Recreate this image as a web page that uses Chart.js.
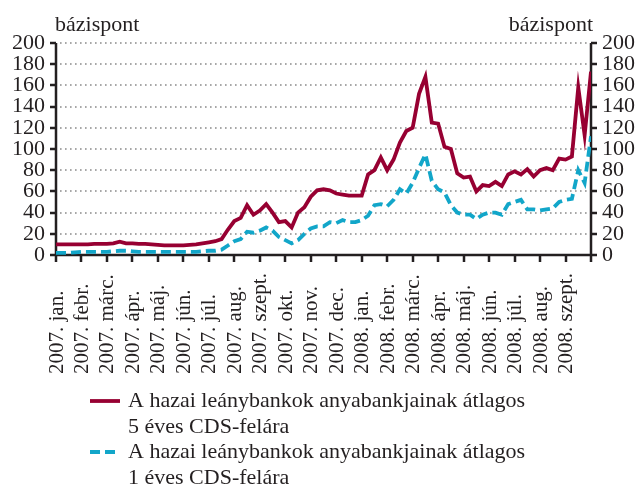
<!DOCTYPE html>
<html lang="hu">
<head>
<meta charset="utf-8">
<title>CDS-felárak</title>
<script src="https://cdn.jsdelivr.net/npm/chart.js@4.4.1/dist/chart.umd.min.js"></script>
<style>
  html, body { margin: 0; padding: 0; background: #fff; }
  canvas { display: block; }
</style>
</head>
<body>
<canvas id="cdsChart" width="636" height="486"></canvas>
<script>
const monthLabels = [
  '2007. jan.', '2007. febr.', '2007. márc.', '2007. ápr.', '2007. máj.', '2007. jún.',
  '2007. júl.', '2007. aug.', '2007. szept.', '2007. okt.', '2007. nov.', '2007. dec.',
  '2008. jan.', '2008. febr.', '2008. márc.', '2008. ápr.', '2008. máj.', '2008. jún.',
  '2008. júl.', '2008. aug.', '2008. szept.'
];

// heti adatok (4 érték / hónap), bázispont
const cds5y = [
  10, 10, 10, 10,   10, 10, 10.5, 10.5,   10.5, 11, 12.5, 11,   11, 10.5, 10.5, 10,
  9.5, 9, 9, 9,   9, 9.5, 10, 11,   12, 13, 15, 24,   32, 35, 47, 38,
  42, 48, 40, 31,   32, 26, 40, 45,   55, 61, 62, 61,   58, 57, 56, 56,
  56, 76, 80, 92,   80, 90, 106, 117,   120, 152, 168, 125,   124, 102, 100, 77,
  73, 74, 60, 66,   65, 69, 65, 76,   79, 76, 81, 74,   80, 82, 80, 91,
  90, 93, 158, 113,   173
];
const cds1y = [
  2, 2, 2, 2.5,   3, 3, 3, 3,   3, 3.5, 4, 4,   3.5, 3, 3, 3,
  3, 3, 3, 3,   3, 3, 3, 3.5,   4, 4, 5, 9,   13, 15, 22, 21,
  23, 26, 23, 17,   14, 11, 14, 20,   25, 27, 27, 31,   30, 33, 31, 31,
  33, 37, 47, 48,   46, 52, 62, 58,   68, 82, 95, 70,   62, 59, 47, 40,
  38, 38, 34, 38,   40, 40, 38, 48,   50, 52, 43, 43,   42, 43, 44, 50,
  52, 53, 80, 68,   112
];
const seriesNames = [
  ['A hazai leánybankok anyabankjainak átlagos', '5 éves CDS-felára'],
  ['A hazai leánybankok anyabankjainak átlagos', '1 éves CDS-felára']
];
const unitLabel = 'bázispont';
const samplesPerMonth = 4;

const textColor = '#231f20';
const fontFamily = '"Liberation Serif", "Times New Roman", serif';

function toPoints(values) {
  return values.map((v, i) => ({ x: i / samplesPerMonth, y: v }));
}

// pontozott vízszintes rácsvonalak, tengelyvonalak
const axesPlugin = {
  id: 'axesPlugin',
  beforeDatasetsDraw(chart) {
    const ctx = chart.ctx;
    const area = chart.chartArea;
    const yScale = chart.scales.y;
    const xScale = chart.scales.x;
    ctx.save();
    ctx.strokeStyle = '#8a8a8a';
    ctx.lineWidth = 1.6;
    ctx.setLineDash([1.6, 3.4]);
    yScale.ticks.forEach(t => {
      if (t.value === 0) return;
      const y = Math.round(yScale.getPixelForValue(t.value));
      ctx.beginPath();
      ctx.moveTo(area.left + 4, y);
      ctx.lineTo(area.right - 2, y);
      ctx.stroke();
    });
    ctx.setLineDash([]);
    ctx.strokeStyle = textColor;
    ctx.lineWidth = 2.5;
    ctx.beginPath();
    // bal és jobb tengely osztásokkal
    [[area.left, -6], [area.right, 6]].forEach(([x, d]) => {
      ctx.moveTo(x, area.top);
      ctx.lineTo(x, area.bottom);
      yScale.ticks.forEach(t => {
        const y = Math.round(yScale.getPixelForValue(t.value));
        ctx.moveTo(x, y);
        ctx.lineTo(x + d, y);
      });
    });
    // vízszintes tengely havi osztásokkal
    ctx.moveTo(area.left - 6, area.bottom);
    ctx.lineTo(area.right + 6, area.bottom);
    xScale.ticks.forEach(t => {
      const x = Math.round(xScale.getPixelForValue(t.value));
      ctx.moveTo(x, area.bottom);
      ctx.lineTo(x, area.bottom + 7);
    });
    ctx.stroke();
    ctx.restore();
  }
};

// tengelycímek, hónapnevek és jelmagyarázat
const textPlugin = {
  id: 'textPlugin',
  afterDraw(chart) {
    const ctx = chart.ctx;
    const xScale = chart.scales.x;
    ctx.save();
    ctx.fillStyle = textColor;

    ctx.font = '22px ' + fontFamily;
    ctx.textBaseline = 'alphabetic';
    ctx.textAlign = 'left';
    ctx.fillText(unitLabel, chart.scales.y.right - 1, 31);
    ctx.textAlign = 'right';
    ctx.fillText(unitLabel, chart.scales.y2.left + 2, 31);

    ctx.font = '21px ' + fontFamily;
    ctx.textAlign = 'left';
    ctx.textBaseline = 'middle';
    monthLabels.forEach((label, i) => {
      ctx.save();
      ctx.translate(xScale.getPixelForValue(i) + 1, 374);
      ctx.rotate(-Math.PI / 2);
      ctx.fillText(label, 0, 0);
      ctx.restore();
    });

    ctx.font = '22px ' + fontFamily;
    chart.data.datasets.forEach((ds, i) => {
      const y0 = 401 + i * 51;
      ctx.save();
      ctx.strokeStyle = ds.borderColor;
      ctx.lineWidth = ds.borderWidth;
      ctx.setLineDash(ds.borderDash || []);
      ctx.beginPath();
      ctx.moveTo(90, y0);
      ctx.lineTo(120, y0);
      ctx.stroke();
      ctx.restore();
      seriesNames[i].forEach((line, j) => {
        ctx.fillText(line, 128, y0 + j * 26);
      });
    });
    ctx.restore();
  }
};

const yAxis = (position) => ({
  type: 'linear',
  position: position,
  min: 0,
  max: 200,
  afterFit(scale) { scale.width = position === 'left' ? 56 : 45; },
  ticks: {
    stepSize: 20,
    autoSkip: false,
    padding: 5,
    color: textColor,
    font: { family: fontFamily, size: 22 }
  },
  grid: { drawOnChartArea: false, tickLength: 6, tickColor: 'rgba(0,0,0,0)' },
  border: { display: false }
});

new Chart(document.getElementById('cdsChart'), {
  type: 'line',
  data: {
    datasets: [
      {
        label: seriesNames[0].join(' '),
        data: toPoints(cds5y),
        borderColor: '#970032',
        borderWidth: 3.8,
        pointRadius: 0,
        tension: 0,
        yAxisID: 'y'
      },
      {
        label: seriesNames[1].join(' '),
        data: toPoints(cds1y),
        borderColor: '#12a6c9',
        borderWidth: 3.8,
        borderDash: [10, 5],
        pointRadius: 0,
        tension: 0,
        yAxisID: 'y'
      }
    ]
  },
  options: {
    responsive: false,
    animation: false,
    devicePixelRatio: 1,
    layout: { padding: { top: 43, left: 0, right: 0, bottom: 0 } },
    plugins: {
      legend: { display: false },
      tooltip: { enabled: false }
    },
    scales: {
      x: {
        type: 'linear',
        min: 0,
        max: monthLabels.length,
        afterFit(scale) { scale.height = 231; },
        ticks: { stepSize: 1, autoSkip: false, display: false },
        grid: { drawOnChartArea: false, drawTicks: false },
        border: { display: false }
      },
      y: yAxis('left'),
      y2: yAxis('right')
    }
  },
  plugins: [axesPlugin, textPlugin]
});
</script>
</body>
</html>
